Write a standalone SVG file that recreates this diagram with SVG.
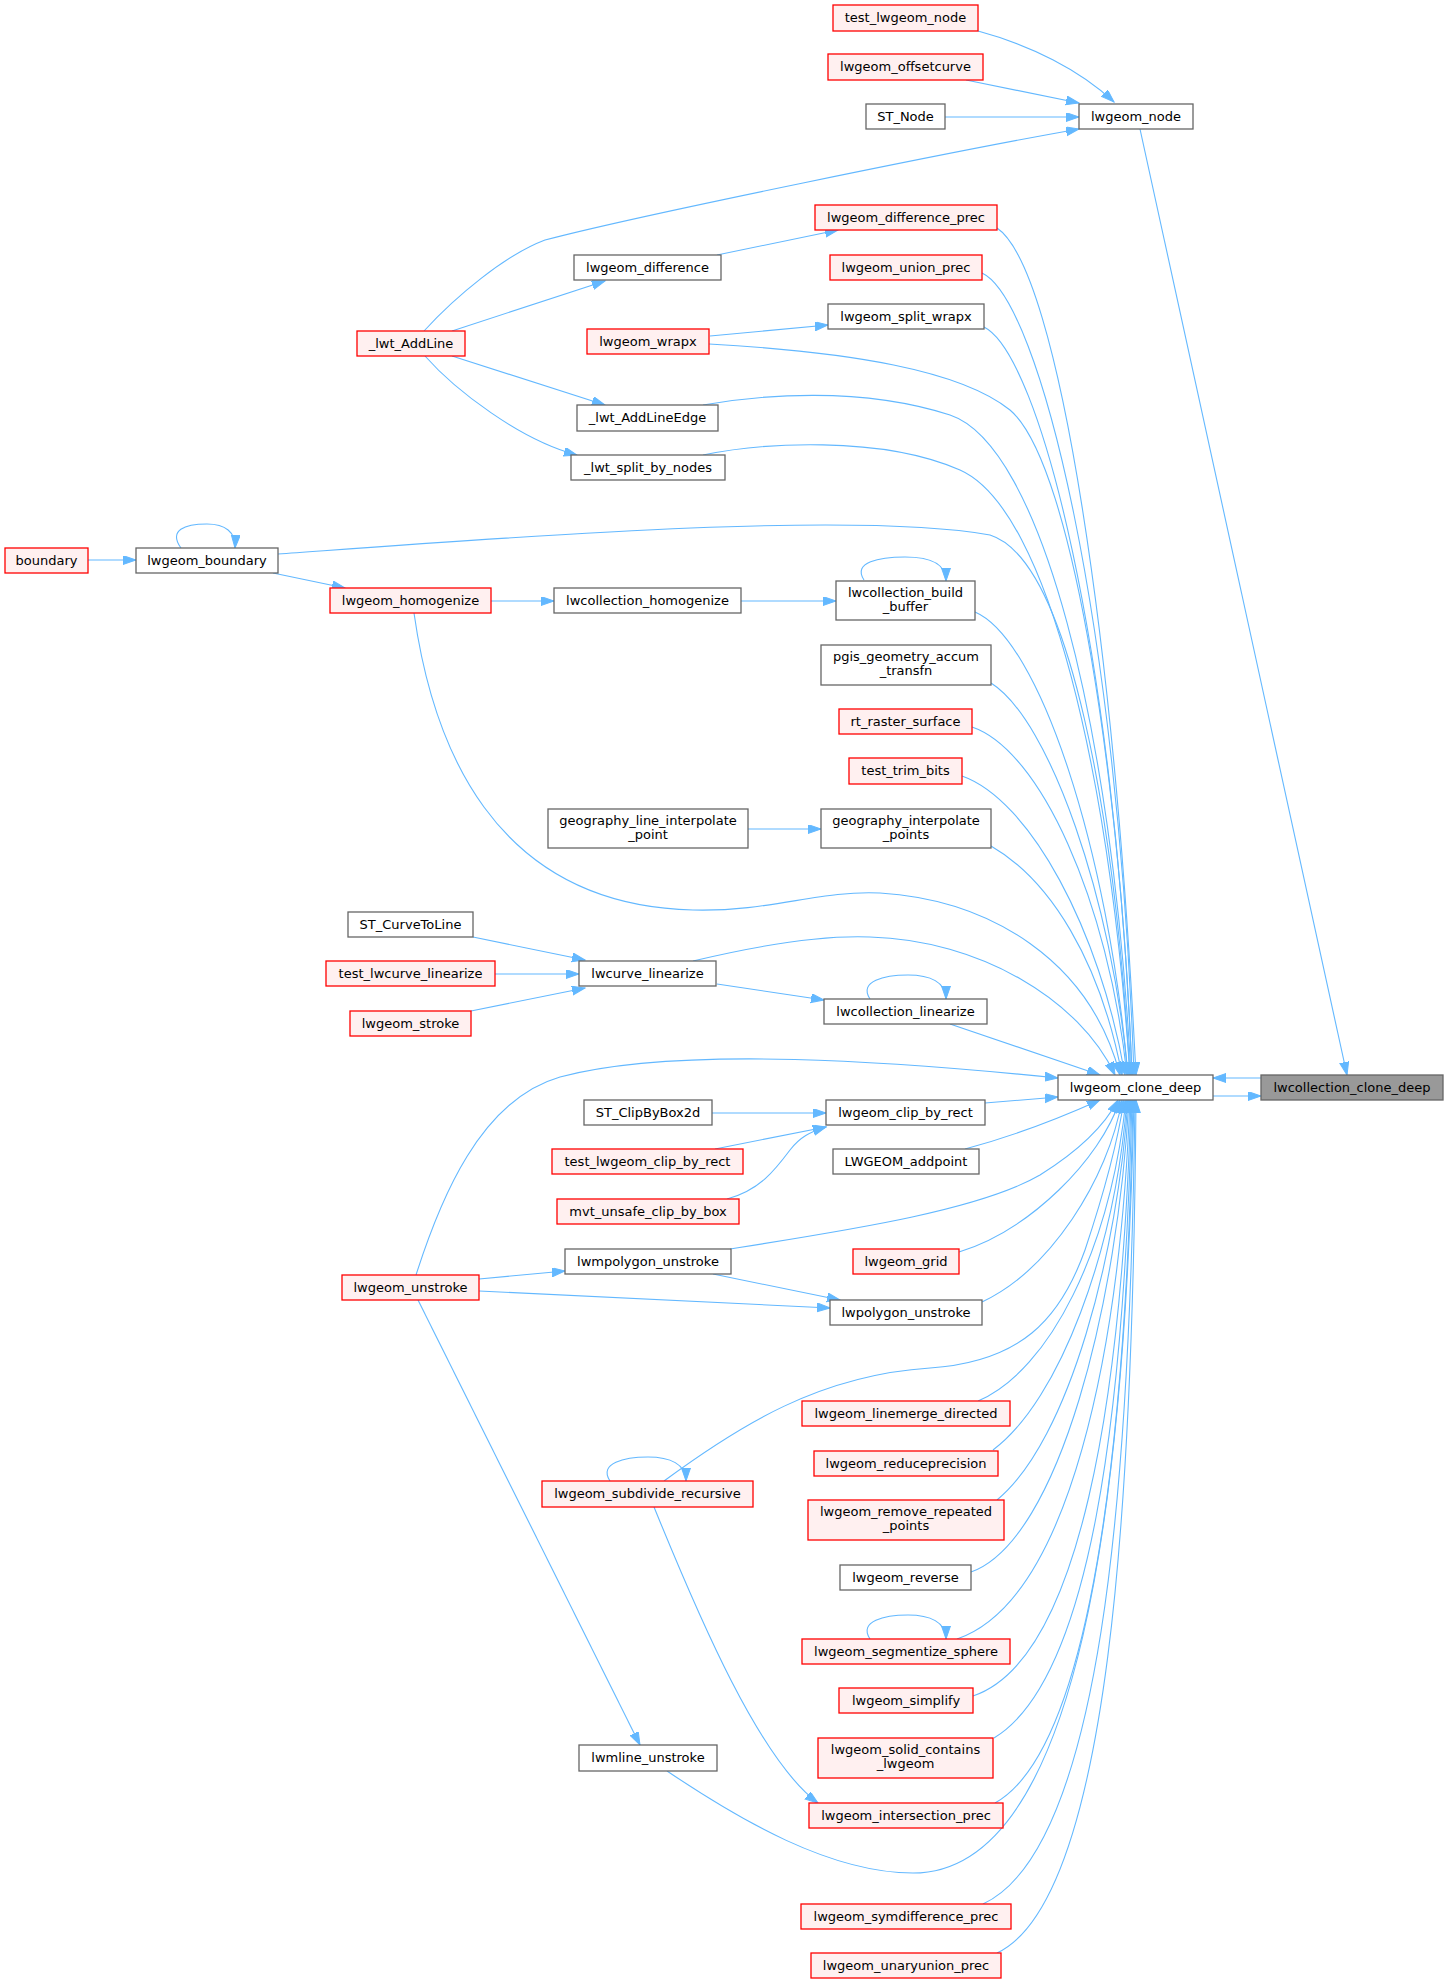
<svg xmlns="http://www.w3.org/2000/svg" width="1448" height="1984" viewBox="0 0 1448 1984">
<defs>
<marker id="ah" markerUnits="userSpaceOnUse" markerWidth="14" markerHeight="10" refX="13" refY="4.5" orient="auto">
<path d="M0,0 L13,4.5 L0,9 z" fill="#63b8ff" stroke="#63b8ff" stroke-width="1"/>
</marker>
<style>
.e{fill:none;stroke:#63b8ff;stroke-width:1.1;marker-end:url(#ah)}
.b{fill:#ffffff;stroke:#666666;stroke-width:1.3}
.r{fill:#fff0f0;stroke:#ff0000;stroke-width:1.3}
.g{fill:#999999;stroke:#666666;stroke-width:1.3}
text{font-family:"DejaVu Sans",sans-serif;font-size:13px;fill:#000000;text-anchor:middle}
</style>
</defs>
<rect width="1448" height="1984" fill="#ffffff"/>
<g id="edges">
<path class="e" d="M978,31 C1030,45 1080,70 1114,102"/>
<path class="e" d="M966,80 L1079,103"/>
<path class="e" d="M945,117 L1079,117"/>
<path class="e" d="M424,331 C455,297 505,255 545,240 C640,215 960,150 1079,129"/>
<path class="e" d="M1140,129 L1347,1075"/>
<path class="e" d="M717,255 L838,230"/>
<path class="e" d="M452,331 L605,281"/>
<path class="e" d="M710,336 L828,325"/>
<path class="e" d="M452,356 L605,405"/>
<path class="e" d="M425,356 C455,390 520,440 577,455"/>
<path class="e" d="M88,560 L136,560"/>
<path class="e" d="M181,548 C168,530 185,524 207,524 C225,524 236,532 235,548"/>
<path class="e" d="M273,573 L345,588"/>
<path class="e" d="M491,601 L554,601"/>
<path class="e" d="M741,601 L836,601"/>
<path class="e" d="M864,580 C852,562 880,557 905,557 C930,557 946,563 946,581"/>
<path class="e" d="M748,829 L821,829"/>
<path class="e" d="M473,937 L585,960"/>
<path class="e" d="M495,974 L579,974"/>
<path class="e" d="M471,1011 L585,988"/>
<path class="e" d="M717,984 L824,1000"/>
<path class="e" d="M870,999 C858,981 885,975 908,975 C930,975 946,982 946,999"/>
<path class="e" d="M712,1113 L826,1113"/>
<path class="e" d="M715,1149 L826,1127"/>
<path class="e" d="M727,1199 C760,1190 775,1170 790,1150 C800,1137 810,1132 826,1127"/>
<path class="e" d="M479,1279 L565,1271"/>
<path class="e" d="M713,1274 L840,1300"/>
<path class="e" d="M479,1291 L830,1308"/>
<path class="e" d="M610,1481 C598,1463 625,1457 648,1457 C670,1457 686,1464 686,1481"/>
<path class="e" d="M654,1507 C700,1620 760,1760 818,1803"/>
<path class="e" d="M418,1300 L640,1745"/>
<path class="e" d="M870,1639 C858,1621 885,1615 908,1615 C930,1615 946,1622 946,1639"/>
<path class="e" d="M997,228 C1060,270 1115,650 1136,1075"/>
<path class="e" d="M982,273 C1040,300 1118,620 1134,1075"/>
<path class="e" d="M984,327 C1040,355 1115,650 1132,1075"/>
<path class="e" d="M709,344 C850,352 960,370 1010,410 C1075,465 1122,800 1132,1075"/>
<path class="e" d="M703,405 C760,395 860,386 950,415 C1040,445 1112,720 1131,1075"/>
<path class="e" d="M703,455 C760,443 880,435 960,470 C1050,510 1110,780 1130,1075"/>
<path class="e" d="M278,554 C500,538 850,510 990,535 C1070,560 1115,820 1130,1075"/>
<path class="e" d="M975,612 C1040,640 1108,850 1128,1075"/>
<path class="e" d="M991,683 C1050,720 1112,900 1128,1075"/>
<path class="e" d="M972,727 C1040,750 1108,900 1127,1075"/>
<path class="e" d="M962,776 C1030,800 1100,930 1125,1075"/>
<path class="e" d="M991,846 C1050,880 1100,960 1122,1075"/>
<path class="e" d="M414,613 C432,740 490,905 693,910 C770,912 820,890 880,893 C990,900 1090,960 1120,1075"/>
<path class="e" d="M693,961 C760,945 820,935 870,937 C980,940 1080,1000 1115,1075"/>
<path class="e" d="M950,1024 L1100,1075"/>
<path class="e" d="M416,1275 C440,1200 480,1100 560,1077 C680,1045 900,1062 1058,1078"/>
<path class="e" d="M985,1103 L1058,1097"/>
<path class="e" d="M965,1149 C1010,1137 1060,1118 1100,1100"/>
<path class="e" d="M730,1249 C850,1230 980,1210 1040,1175 C1080,1150 1105,1125 1118,1100"/>
<path class="e" d="M959,1252 C1030,1230 1100,1160 1120,1100"/>
<path class="e" d="M982,1302 C1050,1270 1108,1180 1122,1100"/>
<path class="e" d="M664,1481 C740,1425 820,1375 930,1368 C1020,1362 1060,1320 1085,1250 C1105,1190 1118,1140 1124,1100"/>
<path class="e" d="M978,1401 C1050,1370 1110,1250 1126,1100"/>
<path class="e" d="M993,1450 C1060,1400 1115,1250 1127,1100"/>
<path class="e" d="M997,1500 C1070,1440 1118,1250 1128,1100"/>
<path class="e" d="M971,1572 C1060,1540 1118,1300 1129,1100"/>
<path class="e" d="M957,1639 C1070,1600 1120,1350 1130,1100"/>
<path class="e" d="M973,1696 C1080,1660 1122,1400 1131,1100"/>
<path class="e" d="M994,1738 C1090,1680 1124,1420 1132,1100"/>
<path class="e" d="M995,1803 C1090,1750 1126,1450 1133,1100"/>
<path class="e" d="M667,1771 C740,1820 830,1873 913,1873 C1080,1873 1125,1500 1134,1100"/>
<path class="e" d="M983,1904 C1100,1850 1130,1500 1135,1100"/>
<path class="e" d="M997,1953 C1110,1900 1133,1500 1136,1100"/>
<path class="e" d="M1261,1078 L1213,1078"/>
<path class="e" d="M1213,1096 L1261,1096"/>
</g>
<g id="n1"><rect class="r" x="833" y="5" width="145" height="26"/><text x="905.5" y="22">test_lwgeom_node</text></g>
<g id="n2"><rect class="r" x="828" y="54" width="155" height="26"/><text x="905.5" y="71">lwgeom_offsetcurve</text></g>
<g id="n3"><rect class="b" x="866" y="104" width="79" height="25"/><text x="905.5" y="121">ST_Node</text></g>
<g id="n4"><rect class="b" x="1079" y="104" width="114" height="25"/><text x="1136" y="121">lwgeom_node</text></g>
<g id="n5"><rect class="r" x="815" y="205" width="182" height="25"/><text x="906" y="222">lwgeom_difference_prec</text></g>
<g id="n6"><rect class="b" x="574" y="255" width="147" height="25"/><text x="647.5" y="272">lwgeom_difference</text></g>
<g id="n7"><rect class="r" x="830" y="255" width="152" height="25"/><text x="906" y="272">lwgeom_union_prec</text></g>
<g id="n8"><rect class="b" x="828" y="304" width="156" height="25"/><text x="906" y="321">lwgeom_split_wrapx</text></g>
<g id="n9"><rect class="r" x="587" y="329" width="122" height="25"/><text x="648" y="346">lwgeom_wrapx</text></g>
<g id="n10"><rect class="r" x="357" y="331" width="108" height="25"/><text x="411" y="348">_lwt_AddLine</text></g>
<g id="n11"><rect class="b" x="577" y="405" width="141" height="26"/><text x="647.5" y="422">_lwt_AddLineEdge</text></g>
<g id="n12"><rect class="b" x="571" y="455" width="154" height="25"/><text x="648" y="472">_lwt_split_by_nodes</text></g>
<g id="n13"><rect class="r" x="5" y="548" width="83" height="25"/><text x="46.5" y="565">boundary</text></g>
<g id="n14"><rect class="b" x="136" y="548" width="142" height="25"/><text x="207" y="565">lwgeom_boundary</text></g>
<g id="n15"><rect class="r" x="330" y="588" width="161" height="25"/><text x="410.5" y="605">lwgeom_homogenize</text></g>
<g id="n16"><rect class="b" x="554" y="588" width="187" height="25"/><text x="647.5" y="605">lwcollection_homogenize</text></g>
<g id="n17"><rect class="b" x="836" y="581" width="139" height="39"/><text x="905.5" y="597">lwcollection_build</text><text x="905.5" y="611">_buffer</text></g>
<g id="n18"><rect class="b" x="821" y="645" width="170" height="40"/><text x="906" y="661">pgis_geometry_accum</text><text x="906" y="675">_transfn</text></g>
<g id="n19"><rect class="r" x="839" y="709" width="133" height="25"/><text x="905.5" y="726">rt_raster_surface</text></g>
<g id="n20"><rect class="r" x="849" y="758" width="113" height="26"/><text x="905.5" y="775">test_trim_bits</text></g>
<g id="n21"><rect class="b" x="548" y="809" width="200" height="39"/><text x="648" y="825">geography_line_interpolate</text><text x="648" y="839">_point</text></g>
<g id="n22"><rect class="b" x="821" y="809" width="170" height="39"/><text x="906" y="825">geography_interpolate</text><text x="906" y="839">_points</text></g>
<g id="n23"><rect class="b" x="348" y="912" width="125" height="25"/><text x="410.5" y="929">ST_CurveToLine</text></g>
<g id="n24"><rect class="r" x="326" y="961" width="169" height="25"/><text x="410.5" y="978">test_lwcurve_linearize</text></g>
<g id="n25"><rect class="b" x="579" y="961" width="137" height="25"/><text x="647.5" y="978">lwcurve_linearize</text></g>
<g id="n26"><rect class="b" x="824" y="999" width="163" height="25"/><text x="905.5" y="1016">lwcollection_linearize</text></g>
<g id="n27"><rect class="r" x="350" y="1011" width="121" height="25"/><text x="410.5" y="1028">lwgeom_stroke</text></g>
<g id="n28"><rect class="b" x="1058" y="1075" width="155" height="25"/><text x="1135.5" y="1092">lwgeom_clone_deep</text></g>
<g id="n29"><rect class="g" x="1261" y="1075" width="182" height="25"/><text x="1352" y="1092">lwcollection_clone_deep</text></g>
<g id="n30"><rect class="b" x="584" y="1100" width="128" height="25"/><text x="648" y="1117">ST_ClipByBox2d</text></g>
<g id="n31"><rect class="b" x="826" y="1100" width="159" height="25"/><text x="905.5" y="1117">lwgeom_clip_by_rect</text></g>
<g id="n32"><rect class="r" x="552" y="1149" width="191" height="25"/><text x="647.5" y="1166">test_lwgeom_clip_by_rect</text></g>
<g id="n33"><rect class="b" x="833" y="1149" width="146" height="25"/><text x="906" y="1166">LWGEOM_addpoint</text></g>
<g id="n34"><rect class="r" x="557" y="1199" width="182" height="25"/><text x="648" y="1216">mvt_unsafe_clip_by_box</text></g>
<g id="n35"><rect class="b" x="565" y="1249" width="166" height="25"/><text x="648" y="1266">lwmpolygon_unstroke</text></g>
<g id="n36"><rect class="r" x="853" y="1249" width="106" height="25"/><text x="906" y="1266">lwgeom_grid</text></g>
<g id="n37"><rect class="r" x="342" y="1275" width="137" height="25"/><text x="410.5" y="1292">lwgeom_unstroke</text></g>
<g id="n38"><rect class="b" x="830" y="1300" width="152" height="25"/><text x="906" y="1317">lwpolygon_unstroke</text></g>
<g id="n39"><rect class="r" x="802" y="1401" width="208" height="25"/><text x="906" y="1418">lwgeom_linemerge_directed</text></g>
<g id="n40"><rect class="r" x="814" y="1451" width="184" height="25"/><text x="906" y="1468">lwgeom_reduceprecision</text></g>
<g id="n41"><rect class="r" x="542" y="1481" width="211" height="26"/><text x="647.5" y="1498">lwgeom_subdivide_recursive</text></g>
<g id="n42"><rect class="r" x="808" y="1500" width="196" height="40"/><text x="906" y="1516">lwgeom_remove_repeated</text><text x="906" y="1530">_points</text></g>
<g id="n43"><rect class="b" x="840" y="1565" width="131" height="25"/><text x="905.5" y="1582">lwgeom_reverse</text></g>
<g id="n44"><rect class="r" x="802" y="1639" width="208" height="25"/><text x="906" y="1656">lwgeom_segmentize_sphere</text></g>
<g id="n45"><rect class="r" x="839" y="1688" width="134" height="25"/><text x="906" y="1705">lwgeom_simplify</text></g>
<g id="n46"><rect class="r" x="818" y="1738" width="175" height="40"/><text x="905.5" y="1754">lwgeom_solid_contains</text><text x="905.5" y="1768">_lwgeom</text></g>
<g id="n47"><rect class="b" x="579" y="1745" width="138" height="26"/><text x="648" y="1762">lwmline_unstroke</text></g>
<g id="n48"><rect class="r" x="809" y="1803" width="194" height="25"/><text x="906" y="1820">lwgeom_intersection_prec</text></g>
<g id="n49"><rect class="r" x="801" y="1904" width="210" height="25"/><text x="906" y="1921">lwgeom_symdifference_prec</text></g>
<g id="n50"><rect class="r" x="811" y="1953" width="190" height="25"/><text x="906" y="1970">lwgeom_unaryunion_prec</text></g>
</svg>
